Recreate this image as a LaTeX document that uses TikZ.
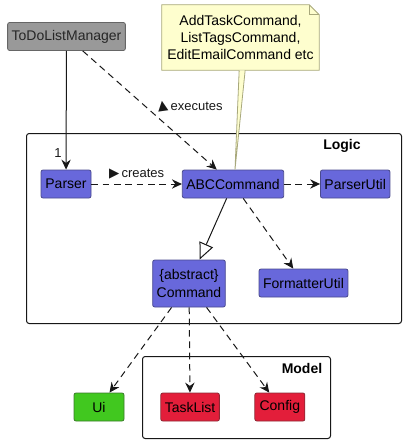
\documentclass[tikz,border=0pt]{standalone}
\usepackage{fontspec}
\setmainfont{Liberation Sans}
\newfontfamily\symfont{DejaVu Sans}
\usetikzlibrary{arrows.meta, positioning, backgrounds}
\definecolor{ClassPurple}{HTML}{6868DB}
\definecolor{ClassBorder}{HTML}{4A4A8E}
\definecolor{MgrGray}{HTML}{999999}
\definecolor{MgrBorder}{HTML}{666666}
\definecolor{UiGreen}{HTML}{41C81F}
\definecolor{UiBorder}{HTML}{3A7A2A}
\definecolor{ModelRed}{HTML}{E31E3A}
\definecolor{ModelBorder}{HTML}{8C2A35}
\definecolor{NoteYellow}{HTML}{FEFECE}
\definecolor{NoteBorder}{HTML}{A8A87C}
\definecolor{LineDark}{HTML}{181818}
\newcommand{\trisym}{\symfont\fontsize{10}{10}\selectfont}
\tikzset{
  classbox/.style={draw=ClassBorder, fill=ClassPurple, rounded corners=1.5pt, line width=0.6pt, align=center, minimum height=21pt, minimum width=37.5pt, inner xsep=3pt, inner ysep=2pt, text=black, font=\fontsize{10.5}{13.5}\selectfont},
  mgrbox/.style={classbox, draw=MgrBorder, fill=MgrGray, text=black!85},
  uibox/.style={classbox, draw=UiBorder, fill=UiGreen},
  modelbox/.style={classbox, draw=ModelBorder, fill=ModelRed},
  notebox/.style={align=center, minimum width=117.75pt, minimum height=48.75pt, font=\fontsize{10.5}{13}\selectfont},
  notepath/.style={draw=NoteBorder, fill=NoteYellow, line width=0.6pt},
  pkgframe/.style={draw=LineDark, rounded corners=2pt, line width=0.75pt, anchor=north west, inner sep=0pt},
  pkglabel/.style={font=\fontsize{10.5}{12}\selectfont\bfseries, inner sep=0pt},
  lbl/.style={font=\fontsize{9.75}{11}\selectfont, inner sep=1pt, text=LineDark},
  assocarrow/.style={-{Stealth[length=7.5pt, width=7pt, inset=2.5pt]}, line width=0.75pt, draw=LineDark},
  deparrow/.style={assocarrow, dash pattern=on 5pt off 3.5pt},
  inheritarrow/.style={-{Triangle[open, fill=white, length=12.5pt, width=11pt]}, line width=0.75pt, draw=LineDark}
}
\begin{document}
\begin{tikzpicture}[x=0.75pt, y=-0.75pt]
\useasboundingbox (0,0) rectangle (406,443);
% packages
\node[pkgframe, minimum width=281.25pt, minimum height=142.5pt] (logic) at (26,133) {};
\node[pkglabel] (logiclbl) at (342,146) {Logic};
\node[pkgframe, minimum width=141pt, minimum height=61.5pt] (model) at (142,356) {};
\node[pkglabel] (modellbl) at (302,368) {Model};

% classes
\node[mgrbox] (mgr) at (66.5,36.5) {ToDoListManager};
\node[notebox] (note) at (240.5,37.5) {AddTaskCommand,\\ListTagsCommand,\\EditEmailCommand etc};
\node[classbox] (parser) at (66,184) {Parser};
\node[classbox] (abc) at (233,184) {ABCCommand};
\node[classbox, right=27pt of abc] (putil) {ParserUtil};
\node[classbox, minimum height=35.25pt] (cmd) at (189,283.5) {\{abstract\}\\Command};
\node[classbox] (futil) at (303.5,283) {FormatterUtil};
\node[uibox] (ui) at (99,407) {Ui};
\node[modelbox, right=27pt of ui] (tasks) {TaskList};
\node[modelbox, right=26pt of tasks] (config) {Config};

% note with folded corner, behind its text
\begin{scope}[on background layer]
\draw[notepath] (note.south west) -- (note.north west) -- ([xshift=-7.5pt]note.north east)
  -- ([yshift=-7.5pt]note.north east) -- (note.south east) -- cycle;
\draw[notepath, fill=none] ([xshift=-7.5pt]note.north east) |- ([yshift=-7.5pt]note.north east);
\end{scope}
\draw[notepath] ([xshift=-1pt]note.south) -- ([xshift=1.5pt]abc.north) -- ([xshift=3.5pt]note.south);

% connectors
\draw[assocarrow] (mgr) -- node[lbl, pos=0.86, left=2pt] {1} (parser);
\draw[deparrow] (mgr) -- node[lbl, pos=0.47, right=7pt] {{\trisym\rotatebox{8}{▲}}\,executes} (abc);
\draw[deparrow] (parser) -- node[lbl, above=2pt] {{\trisym ▶}\,creates} (abc);
\draw[deparrow] (abc) -- (putil);
\draw[deparrow] (abc) -- (futil);
\draw[inheritarrow] (abc) -- (cmd);
\draw[deparrow] (cmd) -- (ui);
\draw[deparrow] (cmd) -- (tasks);
\draw[deparrow] (cmd) -- (config);
\end{tikzpicture}
\end{document}
